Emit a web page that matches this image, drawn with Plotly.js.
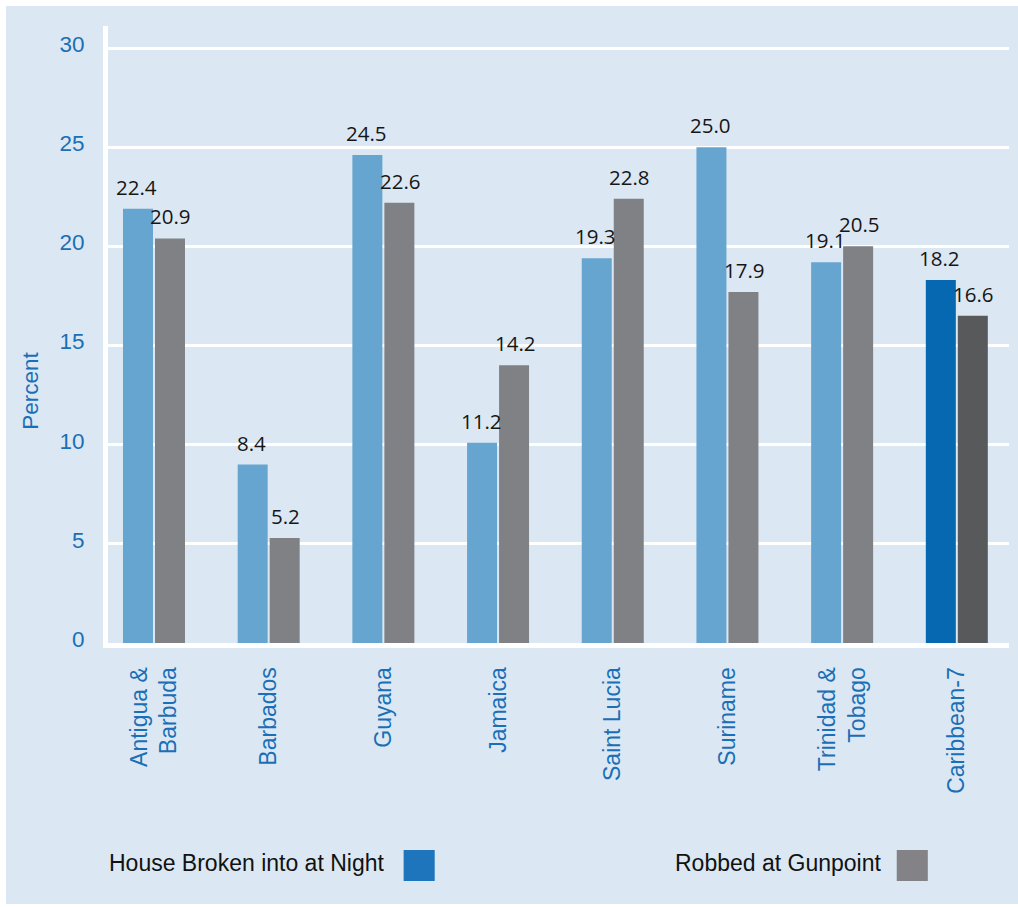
<!DOCTYPE html>
<html>
<head>
<meta charset="utf-8">
<script src="https://cdn.plot.ly/plotly-3.0.1.min.js"></script>
<style>
  html, body { margin: 0; padding: 0; background: #ffffff; width: 1018px; height: 907px; overflow: hidden; }
  #chart { position: absolute; left: 6px; top: 6px; width: 1012px; height: 898px; }
</style>
</head>
<body>
<div id="chart"></div>
<script>
// ---- data ----
const categories = ["Antigua &<br>Barbuda", "Barbados", "Guyana", "Jamaica", "Saint Lucia", "Suriname", "Trinidad &<br>Tobago", "Caribbean-7"];
const seriesNames = ["House Broken into at Night", "Robbed at Gunpoint"];
// bar heights as drawn in the picture
const houseBroken = [21.9, 9.0, 24.6, 10.1, 19.4, 25.0, 19.2, 18.3];
const robbedGunpoint = [20.4, 5.3, 22.2, 14.0, 22.4, 17.7, 20.0, 16.5];
// value labels as printed
const houseLabels = ["22.4", "8.4", "24.5", "11.2", "19.3", "25.0", "19.1", "18.2"];
const robbedLabels = ["20.9", "5.2", "22.6", "14.2", "22.8", "17.9", "20.5", "16.6"];
const yTicks = [0, 5, 10, 15, 20, 25, 30];

// ---- styles ----
const BG = "#dbe8f3";
const BLUE_TXT = "#1a6fb6";
const lightBlue = "#66a5d0", darkBlue = "#0668b0";
const lightGray = "#808185", darkGray = "#58595b";
const n = categories.length;
const houseColors = categories.map((c, i) => i === n - 1 ? darkBlue : lightBlue);
const robbedColors = categories.map((c, i) => i === n - 1 ? darkGray : lightGray);

const traces = [
  { type: "bar", name: seriesNames[0], x: categories, y: houseBroken,
    marker: { color: houseColors, line: { width: 0 } }, hoverinfo: "skip" },
  { type: "bar", name: seriesNames[1], x: categories, y: robbedGunpoint,
    marker: { color: robbedColors, line: { width: 0 } }, hoverinfo: "skip" }
];

const labelFont = { family: "Open Sans, Noto Sans, sans-serif", size: 20.5, color: "#161616" };
const annotations = [];
categories.forEach((c, i) => {
  annotations.push({ x: c, y: houseBroken[i], xref: "x", yref: "y", text: houseLabels[i],
    showarrow: false, xanchor: "center", yanchor: "bottom", xshift: -17, yshift: 6, font: labelFont });
  annotations.push({ x: c, y: robbedGunpoint[i], xref: "x", yref: "y", text: robbedLabels[i],
    showarrow: false, xanchor: "center", yanchor: "bottom", xshift: 17, yshift: 6, font: labelFont });
});

// y axis title
annotations.push({ xref: "paper", yref: "paper", x: -0.0868, y: 0.4084, text: "Percent",
  textangle: -90, showarrow: false, xanchor: "center", yanchor: "middle",
  font: { family: "Liberation Sans, Arial, sans-serif", size: 22.5, color: BLUE_TXT } });

// manual legend (text left of swatch)
const legendFont = { family: "Liberation Sans, Arial, sans-serif", size: 23, color: "#111111" };
annotations.push({ xref: "paper", yref: "paper", x: 0.3081, y: -0.3566, text: seriesNames[0],
  showarrow: false, xanchor: "right", yanchor: "middle", font: legendFont });
annotations.push({ xref: "paper", yref: "paper", x: 0.8598, y: -0.3566, text: seriesNames[1],
  showarrow: false, xanchor: "right", yanchor: "middle", font: legendFont });

const shapes = [
  { type: "rect", xref: "paper", yref: "paper", x0: 0.3281, x1: 0.3626, y0: -0.3857, y1: -0.3355,
    fillcolor: "#1f75bb", line: { width: 0 } },
  { type: "rect", xref: "paper", yref: "paper", x0: 0.8754, x1: 0.9099, y0: -0.3857, y1: -0.3355,
    fillcolor: "#838387", line: { width: 0 } }
];

const layout = {
  width: 1012, height: 898,
  margin: { l: 102, r: 9, t: 20, b: 261, pad: 0 },
  paper_bgcolor: BG, plot_bgcolor: BG,
  showlegend: false,
  barmode: "group", bargap: 0.442, bargroupgap: 0.0625,
  font: { family: "Liberation Sans, Arial, sans-serif", size: 23, color: BLUE_TXT },
  xaxis: {
    type: "category", range: [-0.401, 7.455],
    showgrid: false, zeroline: false,
    showline: true, linecolor: "#ffffff", linewidth: 5,
    ticks: "", tickangle: -90, ticklabelstandoff: 10,
    tickfont: { family: "Liberation Sans, Arial, sans-serif", size: 23, color: BLUE_TXT }
  },
  yaxis: {
    range: [0, 31.11], tickvals: yTicks, ticktext: yTicks.map(String),
    showgrid: true, gridcolor: "#ffffff", gridwidth: 3,
    zeroline: false,
    showline: true, linecolor: "#ffffff", linewidth: 5,
    ticks: "", ticklabelstandoff: 14, ticklabelshift: -4,
    tickfont: { family: "Liberation Sans, Arial, sans-serif", size: 22.5, color: BLUE_TXT }
  },
  annotations: annotations,
  shapes: shapes
};

Plotly.newPlot("chart", traces, layout, { staticPlot: true, displayModeBar: false });
</script>
</body>
</html>
